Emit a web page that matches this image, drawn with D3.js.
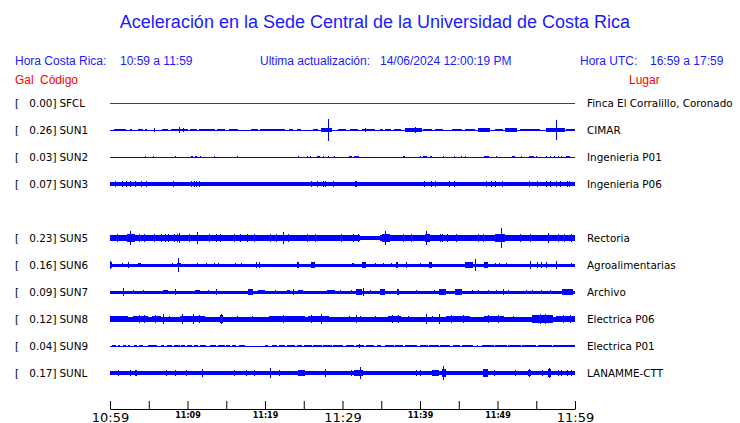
<!DOCTYPE html>
<html><head><meta charset="utf-8">
<script src="https://cdn.jsdelivr.net/npm/d3@7/dist/d3.min.js"></script>
<style>body{margin:0;background:#fff}svg{display:block}</style>
</head><body>
<svg id="c" width="740" height="423"></svg>
<script>
// ---------- DATA ----------
const slots = ["SFCL","SUN1","SUN2","SUN3","SUN4","SUN5","SUN6","SUN7","SUN8","SUN9","SUNL"];
const stations = ["SFCL","SUN1","SUN2","SUN3","SUN5","SUN6","SUN7","SUN8","SUN9","SUNL"];
const peakGal = [0.00,0.26,0.03,0.07,0.23,0.16,0.09,0.12,0.04,0.17];
const places = ["Finca El Corralillo, Coronado","CIMAR","Ingenieria P01","Ingenieria P06","Rectoria","Agroalimentarias","Archivo","Electrica P06","Electrica P01","LANAMME-CTT"];
const baseGal = [0, 0.012, 0.012, 0.045, 0.045, 0.034, 0.034, 0.055, 0.012, 0.042];
const traceColors = ["#e00000","#0000ff","#0000ff","#0000ff","#0000ff","#0000ff","#0000ff","#0000ff","#0000ff","#0000ff"];
const tickTimes = ["10:59","11:04","11:09","11:14","11:19","11:24","11:29","11:34","11:39","11:44","11:49","11:54","11:59"];
const tickLabels = ["10:59","","11:09","","11:19","","11:29","","11:39","","11:49","","11:59"];
const bigLabels = ["10:59","11:29","11:59"];

// bursts: [startMinute, endMinute, halfAmplitudeGal]; spikes: [minute, halfAmplitudeGal]
const burstsSFCL = [];
const spikesSFCL = [];
const burstsSUN1 = [[0.5,2.1,0.033],[2.6,2.8,0.03],[3.6,4.2,0.03],[4.5,4.8,0.028],[6.7,7.5,0.033],[7.9,10.0,0.034],[10.3,11.2,0.033],[11.5,13.5,0.034],[13.8,14.9,0.033],[15.4,16.5,0.033],[18.2,19.1,0.033],[19.3,21.5,0.034],[21.6,22.6,0.033],[23.1,23.6,0.03],[24.1,24.7,0.033],[26.2,26.8,0.033],[27.2,28.6,0.036],[29.4,30.4,0.033],[31.0,32.0,0.033],[32.5,34.2,0.034],[34.8,35.2,0.03],[35.5,36.3,0.033],[36.6,37.6,0.034],[38.1,40.2,0.036],[40.4,41.5,0.034],[41.9,43.0,0.034],[44.1,45.4,0.034],[45.8,47.1,0.033],[47.5,49.0,0.036],[49.7,50.7,0.033],[51.0,52.5,0.036],[52.9,55.5,0.033],[56.3,58.7,0.038],[58.9,60,0.033]];
const spikesSUN1 = [[5.7,0.055],[9.0,0.06],[9.5,0.05],[28.2,0.26],[33.0,0.05],[39.4,0.06],[51.8,0.05],[57.6,0.25]];
const burstsSUN2 = [[4.55,4.65,0.03],[5.55,5.65,0.03],[8.35,8.45,0.025],[10.45,10.65,0.035],[11.0,11.2,0.035],[11.65,11.75,0.025],[13.45,13.55,0.035],[16.45,16.55,0.025],[24.25,24.35,0.025],[25.45,25.55,0.03],[25.85,25.95,0.025],[26.7,27.1,0.035],[27.45,27.55,0.03],[28.15,28.25,0.03],[28.85,28.95,0.03],[30.8,31.2,0.03],[31.5,32.1,0.035],[37.8,38.1,0.03],[40.0,40.1,0.025],[40.4,40.9,0.035],[41.3,41.6,0.03],[42.95,43.05,0.025],[44.45,44.55,0.03],[45.25,45.35,0.025],[45.75,45.85,0.025],[48.3,48.9,0.035],[49.85,49.95,0.025],[51.9,52.3,0.03],[53.05,53.15,0.025],[54.0,54.7,0.035],[54.95,55.05,0.03],[56.3,56.4,0.025],[56.8,56.9,0.025],[57.3,57.4,0.025],[57.8,57.9,0.025],[58.2,58.3,0.025],[58.9,59.3,0.035]];
const spikesSUN2 = [];
const burstsSUN3 = [[10.9,11.5,0.055],[31.6,31.9,0.06],[40.4,40.9,0.058],[54,54.3,0.055],[56.1,57.2,0.055]];
const spikesSUN3 = [[0.7,0.06],[1.6,0.06],[2.1,0.06],[2.7,0.06],[3.3,0.06],[4.0,0.06],[4.7,0.065],[5.9,0.055],[8.2,0.06],[10.5,0.06],[10.9,0.065],[11.2,0.07],[11.5,0.06],[14.7,0.055],[21.8,0.055],[26.0,0.06],[26.8,0.07],[27.5,0.06],[27.8,0.06],[28.9,0.06],[30.9,0.058],[31.7,0.07],[34.6,0.058],[35.6,0.058],[36.2,0.058],[37.8,0.055],[39.7,0.055],[40.6,0.07],[41.5,0.06],[42.0,0.06],[43.8,0.06],[44.5,0.06],[46.0,0.055],[46.5,0.055],[47.2,0.055],[48.6,0.06],[49.2,0.06],[49.7,0.06],[50.7,0.06],[52.9,0.058],[54.1,0.065],[55.1,0.06],[56.3,0.065],[56.8,0.07],[57.6,0.06],[58.1,0.06],[59.0,0.065],[59.3,0.06]];
const burstsSUN5 = [[0,32.3,0.068],[34.8,60,0.068],[2.2,3.2,0.085],[8.1,9.4,0.078],[12.6,14.5,0.078],[15.7,19.1,0.08],[20.4,23.4,0.082],[25.2,26.9,0.082],[31,32.3,0.08],[35.1,36.1,0.1],[40.6,41.3,0.085],[42.2,43.9,0.082],[49.7,51,0.09],[53.9,54.8,0.082],[57.2,60,0.082]];
const spikesSUN5 = [[1.0,0.09],[2.7,0.17],[3.8,0.09],[4.4,0.09],[5.8,0.1],[6.6,0.1],[7.1,0.1],[7.6,0.1],[8.3,0.1],[8.7,0.1],[9.0,0.12],[10.2,0.085],[11.3,0.135],[12.8,0.09],[13.7,0.095],[14.3,0.085],[16.0,0.09],[16.9,0.095],[17.8,0.09],[18.6,0.09],[20.7,0.09],[21.5,0.095],[22.4,0.14],[23.0,0.09],[25.5,0.1],[26.5,0.095],[29.9,0.085],[31.4,0.1],[32.0,0.09],[35.5,0.17],[37.9,0.1],[38.9,0.1],[40.9,0.165],[42.6,0.1],[42.9,0.1],[43.5,0.09],[44.7,0.09],[47.5,0.09],[48.2,0.09],[50.5,0.23],[53.0,0.09],[54.3,0.1],[56.6,0.13],[57.9,0.1],[58.7,0.1],[59.5,0.1]];
const burstsSUN6 = [[0,0.2,0.08],[3.65,4.0,0.055],[8.6,9.2,0.05],[24.1,24.4,0.06],[25.9,26.5,0.06],[31.2,31.5,0.055],[32.5,33.0,0.06],[36.9,37.2,0.06],[41.2,41.5,0.06],[45.8,46.9,0.06],[48.2,48.8,0.06]];
const spikesSUN6 = [[0.1,0.095],[1.6,0.048],[2.4,0.071],[8.0,0.048],[8.8,0.16],[11.3,0.043],[12.5,0.048],[13.5,0.048],[14.0,0.043],[16.2,0.048],[17.0,0.036],[18.9,0.06],[19.35,0.06],[24.2,0.083],[31.3,0.055],[32.7,0.06],[34.2,0.036],[35.3,0.036],[36.3,0.036],[37.0,0.06],[38.2,0.06],[40.0,0.055],[41.3,0.06],[46.3,0.071],[47.2,0.155],[48.5,0.06],[49.8,0.048],[50.3,0.048],[51.1,0.048],[54.2,0.095],[55.1,0.06],[55.7,0.06],[56.3,0.06],[57.6,0.095],[59.6,0.043]];
const burstsSUN7 = [[6.9,7.5,0.048],[11,11.6,0.055],[17.8,18.5,0.065],[19.1,20,0.058],[22.8,23.2,0.058],[24.3,24.9,0.058],[28,29,0.058],[31.8,32.5,0.065],[34.8,35.5,0.065],[37,37.3,0.065],[42.4,43.4,0.075],[44.5,45.4,0.065],[58.3,59.8,0.065]];
const spikesSUN7 = [[1.7,0.09],[3,0.036],[4.3,0.036],[8.4,0.06],[12.7,0.048],[13.8,0.06],[21.3,0.048],[23.7,0.071],[29.8,0.048],[31.2,0.048],[32.7,0.09],[33.6,0.048],[39.5,0.048],[41.9,0.048],[46.8,0.048],[47.5,0.048],[48.8,0.048],[49.9,0.048],[50.8,0.06],[51.4,0.048],[53.8,0.048],[54.5,0.048],[55.7,0.048],[56.9,0.048],[58.6,0.06],[59.3,0.06]];
const burstsSUN8 = [[0,2.3,0.062],[3,4.9,0.074],[5.4,6.6,0.066],[9,12.3,0.074],[14.2,14.6,0.085],[20.5,25.2,0.064],[25.6,28.2,0.078],[35.9,37.6,0.074],[43.4,46.5,0.072],[48.2,50.8,0.074],[54.4,57.2,0.085],[57.6,60,0.074]];
const spikesSUN8 = [[1.2,0.08],[3.8,0.107],[4.4,0.09],[5.9,0.085],[6.9,0.12],[7.7,0.08],[9.4,0.12],[10.8,0.12],[11.6,0.09],[14.4,0.11],[16.5,0.08],[18.4,0.075],[21.2,0.08],[22.4,0.085],[23.6,0.08],[26.0,0.09],[27.3,0.13],[30.9,0.08],[31.8,0.107],[32.3,0.08],[34.2,0.08],[36.5,0.095],[37.2,0.09],[38.5,0.08],[40.9,0.13],[41.6,0.08],[42.5,0.13],[44.0,0.095],[45.6,0.09],[48.8,0.09],[50.1,0.09],[52.1,0.08],[55.5,0.11],[56.2,0.11],[58.5,0.095],[59.4,0.09]];
const burstsSUN9 = [[0.3,0.8,0.033],[1.0,1.3,0.033],[1.7,2.0,0.033],[2.3,2.6,0.033],[3.1,3.5,0.033],[3.7,4.3,0.033],[4.9,6.0,0.035],[6.6,7.0,0.033],[7.3,8.0,0.033],[8.2,9.0,0.033],[9.2,9.7,0.033],[9.9,10.6,0.035],[10.8,11.4,0.035],[11.6,12.4,0.033],[12.9,13.7,0.033],[13.9,14.8,0.033],[15.0,15.5,0.033],[15.8,16.3,0.033],[16.6,17.4,0.033],[20.0,20.4,0.03],[20.9,21.5,0.033],[21.8,22.6,0.033],[22.9,23.9,0.033],[24.1,24.8,0.035],[25.0,26.0,0.035],[26.2,27.3,0.035],[27.5,28.6,0.035],[28.8,30.1,0.035],[30.5,31.5,0.035],[31.8,32.8,0.035],[33.0,34.0,0.035],[34.4,35.0,0.033],[35.5,36.6,0.035],[36.8,37.8,0.035],[38.0,39.6,0.035],[40.0,41.0,0.035],[41.2,42.4,0.035],[42.6,43.9,0.035],[44.3,45.2,0.035],[45.4,46.9,0.035],[47.3,47.5,0.033],[48,49.5,0.035],[49.7,51.2,0.035],[51.4,53.0,0.035],[53.2,55.0,0.035],[55.2,57.0,0.035],[57.2,60,0.035]];
const spikesSUN9 = [[32.2,0.045]];
const burstsSUNL = [[3.2,3.5,0.07],[24.3,25.2,0.06],[31.5,32.6,0.07],[41.5,42.4,0.07],[42.8,43.4,0.1],[48.1,48.8,0.09],[53.9,54.3,0.08],[56.5,56.9,0.1]];
const spikesSUNL = [[1.1,0.06],[1.7,0.048],[2.6,0.083],[3.3,0.071],[4.8,0.048],[5.9,0.048],[7.3,0.083],[8.4,0.06],[9.9,0.071],[10.5,0.048],[11.1,0.048],[11.9,0.107],[16.1,0.06],[16.7,0.048],[17.6,0.071],[18.7,0.06],[20.7,0.12],[21.9,0.06],[23.2,0.048],[24.3,0.071],[25.0,0.071],[25.8,0.048],[27.8,0.107],[28.5,0.048],[29.1,0.048],[30.6,0.048],[31.1,0.071],[32.3,0.155],[33.2,0.048],[35.3,0.048],[36.2,0.048],[39.6,0.06],[40.1,0.083],[40.9,0.048],[41.8,0.071],[42.2,0.071],[43.0,0.17],[43.7,0.048],[46.5,0.048],[48.4,0.095],[49.6,0.071],[52.3,0.071],[54.1,0.095],[55.3,0.048],[55.8,0.06],[56.7,0.12],[57.9,0.06],[58.3,0.06],[59.0,0.06],[59.6,0.06]];

const bursts = [burstsSFCL,burstsSUN1,burstsSUN2,burstsSUN3,burstsSUN5,burstsSUN6,burstsSUN7,burstsSUN8,burstsSUN9,burstsSUNL];
const spikes = [spikesSFCL,spikesSUN1,spikesSUN2,spikesSUN3,spikesSUN5,spikesSUN6,spikesSUN7,spikesSUN8,spikesSUN9,spikesSUNL];

// ---------- CHART ----------
const svg = d3.select("#c");
const parse = d3.timeParse("%Y-%m-%d %H:%M");
const day = "2024-06-14 ";
const t0 = parse(day + tickTimes[0]);
const x = d3.scaleTime().domain([t0, parse(day+tickTimes[tickTimes.length-1])]).range([110, 575]);
const y = d3.scalePoint().domain(slots).range([103, 373]);
const amp = d3.scaleLinear().domain([0, 0.26]).range([0, 10.9]);
const xm = m => x(d3.timeSecond.offset(t0, Math.round(m * 60)));

const blue = "#1a1aff";
svg.append("text").attr("x", 375).attr("y", 28).attr("text-anchor","middle")
  .attr("font-family","Liberation Sans, Arial, sans-serif").attr("font-size",18).attr("fill",blue)
  .text("Aceleración en la Sede Central de la Universidad de Costa Rica");

const hdr = [["Hora Costa Rica:",15],["10:59 a 11:59",120],["Ultima actualización:",260],["14/06/2024 12:00:19 PM",380],["Hora UTC:",580],["16:59 a 17:59",650]];
svg.selectAll("text.hdr").data(hdr).join("text").attr("class","hdr")
  .attr("x", d=>d[1]).attr("y", 65).attr("font-family","Liberation Sans, Arial, sans-serif")
  .attr("font-size",12).attr("fill",blue).text(d=>d[0]);
const hdr2 = [["Gal",15],["Código",40],["Lugar",629]];
svg.selectAll("text.hdr2").data(hdr2).join("text").attr("class","hdr2")
  .attr("x", d=>d[1]).attr("y", 84).attr("font-family","Liberation Sans, Arial, sans-serif")
  .attr("font-size",12).attr("fill","#ff0000").text(d=>d[0]);

const lab = svg.append("g").attr("font-family","DejaVu Sans, sans-serif").attr("font-size",10.4).attr("fill","#000");
stations.forEach((s,i)=>{
  const yy = y(s) + 4;
  lab.append("text").attr("x",15).attr("y",yy).text("[");
  lab.append("text").attr("x",56.5).attr("y",yy).attr("text-anchor","end").text(peakGal[i].toFixed(2)+"]");
  lab.append("text").attr("x",59.5).attr("y",yy).text(s);
  lab.append("text").attr("x",587).attr("y",yy).text(places[i]);
});

const tr = svg.append("g").attr("shape-rendering","crispEdges");
stations.forEach((s,i)=>{
  const g = tr.append("g").attr("fill", traceColors[i]).attr("stroke", traceColors[i]);
  const yc = Math.round(y(s));
  const h0 = Math.max(1, Math.round(2*amp(baseGal[i])));
  g.append("rect").attr("x", xm(0)).attr("width", xm(60)-xm(0)).attr("y", yc - Math.floor(h0/2)).attr("height", h0).attr("stroke","none");
  g.selectAll("rect.b").data(bursts[i]).join("rect").attr("class","b").attr("stroke","none")
    .attr("x", d=>xm(d[0])).attr("width", d=>Math.max(1, xm(d[1])-xm(d[0])))
    .attr("y", d=>yc - amp(d[2])).attr("height", d=>2*amp(d[2]));
  g.selectAll("line.s").data(spikes[i]).join("line").attr("class","s").attr("stroke-width",1)
    .attr("x1", d=>xm(d[0])).attr("x2", d=>xm(d[0]))
    .attr("y1", d=>yc - amp(d[1])).attr("y2", d=>yc + amp(d[1]));
});

// axis
const tickDates = tickTimes.map(t=>parse(day+t));
const isBig = d => bigLabels.includes(d3.timeFormat("%H:%M")(d));
const axis = d3.axisBottom(x).tickValues(tickDates).tickSize(-8).tickSizeOuter(0)
  .tickFormat((d,i)=>tickLabels[i]);
const ag = svg.append("g").attr("transform","translate(0,409)").call(axis);
ag.select(".domain").attr("stroke","#000");
ag.selectAll(".tick line").attr("stroke","#000");
ag.selectAll(".tick text").attr("fill","#000").attr("dy", null)
  .attr("y", d=> isBig(d) ? 12.5 : 8.5)
  .attr("font-family","DejaVu Sans, sans-serif")
  .attr("font-size", d=> isBig(d) ? 13 : 8)
  .attr("font-weight", d=> isBig(d) ? "normal" : "bold");
</script>
</body></html>
